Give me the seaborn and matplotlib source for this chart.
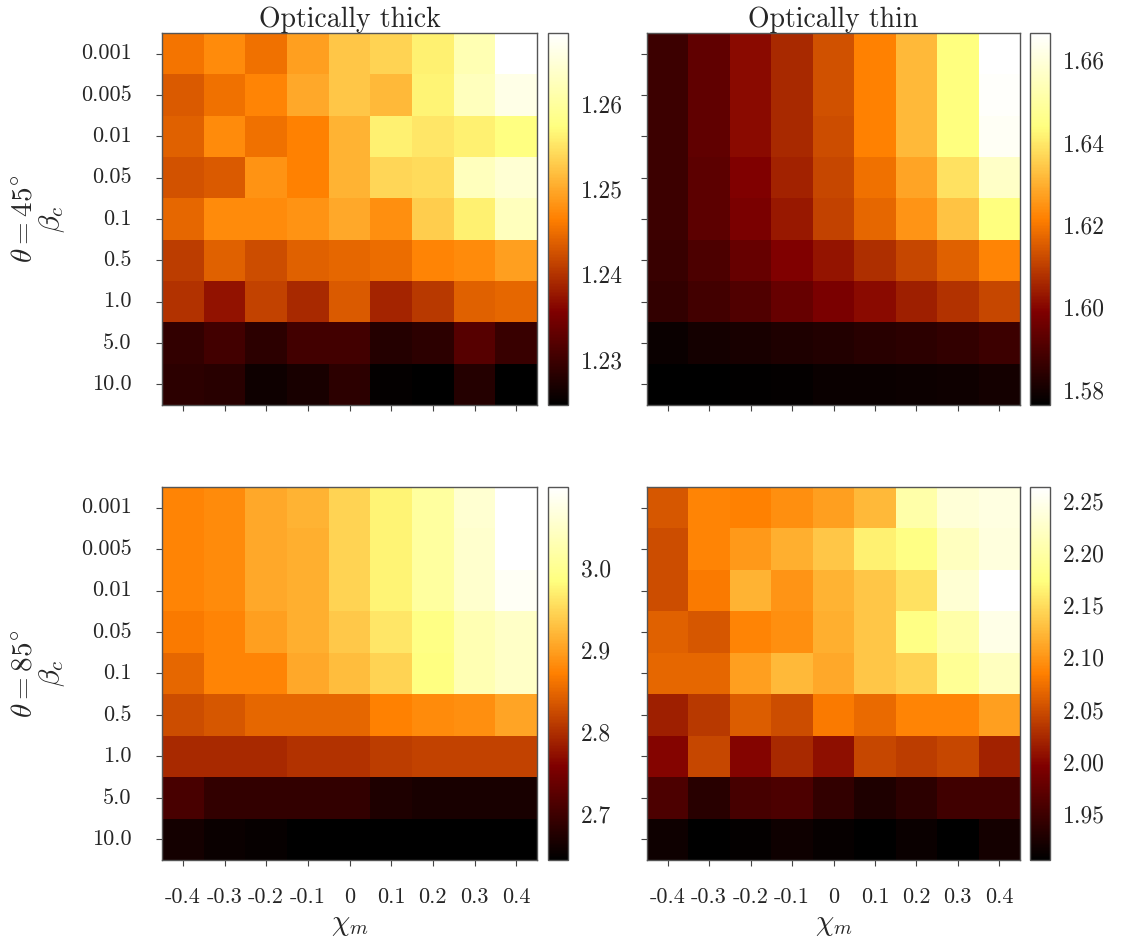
import numpy as np
import pandas as pd
import matplotlib
matplotlib.use('Agg')
import matplotlib.pyplot as plt
import seaborn as sns

beta_c = ['0.001', '0.005', '0.01', '0.05', '0.1', '0.5', '1.0', '5.0', '10.0']
chi_m = ['-0.4', '-0.3', '-0.2', '-0.1', '0', '0.1', '0.2', '0.3', '0.4']

# theta = 45 deg, optically thick
thick_45 = [
    [1.2456, 1.2474, 1.2452, 1.2491, 1.2526, 1.2535, 1.2561, 1.2618, 1.2683],
    [1.2434, 1.2452, 1.2469, 1.2500, 1.2526, 1.2513, 1.2565, 1.2626, 1.2661],
    [1.2439, 1.2474, 1.2452, 1.2465, 1.2509, 1.2561, 1.2552, 1.2561, 1.2574],
    [1.2426, 1.2434, 1.2482, 1.2465, 1.2509, 1.2539, 1.2543, 1.2626, 1.2644],
    [1.2443, 1.2474, 1.2474, 1.2482, 1.2500, 1.2478, 1.2530, 1.2561, 1.2626],
    [1.2408, 1.2439, 1.2421, 1.2439, 1.2443, 1.2448, 1.2469, 1.2474, 1.2491],
    [1.2400, 1.2373, 1.2413, 1.2391, 1.2434, 1.2387, 1.2404, 1.2439, 1.2443],
    [1.2291, 1.2304, 1.2286, 1.2304, 1.2304, 1.2278, 1.2286, 1.2321, 1.2295],
    [1.2286, 1.2282, 1.2260, 1.2269, 1.2286, 1.2251, 1.2247, 1.2278, 1.2247],
]

# theta = 45 deg, optically thin
thin_45 = [
    [1.5871, 1.5935, 1.6007, 1.6061, 1.6133, 1.6215, 1.6314, 1.6440, 1.6666],
    [1.5871, 1.5935, 1.6007, 1.6061, 1.6133, 1.6215, 1.6314, 1.6440, 1.6657],
    [1.5871, 1.5935, 1.6007, 1.6061, 1.6124, 1.6215, 1.6314, 1.6440, 1.6648],
    [1.5871, 1.5926, 1.5989, 1.6052, 1.6115, 1.6187, 1.6278, 1.6386, 1.6567],
    [1.5871, 1.5926, 1.5980, 1.6034, 1.6106, 1.6169, 1.6251, 1.6332, 1.6440],
    [1.5862, 1.5898, 1.5944, 1.5989, 1.6025, 1.6070, 1.6115, 1.6160, 1.6224],
    [1.5853, 1.5880, 1.5907, 1.5944, 1.5980, 1.6007, 1.6043, 1.6079, 1.6115],
    [1.5781, 1.5799, 1.5808, 1.5817, 1.5826, 1.5835, 1.5844, 1.5853, 1.5871],
    [1.5763, 1.5763, 1.5768, 1.5772, 1.5781, 1.5781, 1.5786, 1.5790, 1.5799],
]

# theta = 85 deg, optically thick
thick_85 = [
    [2.876, 2.880, 2.907, 2.916, 2.944, 2.975, 3.012, 3.057, 3.098],
    [2.876, 2.880, 2.907, 2.912, 2.944, 2.975, 3.012, 3.053, 3.098],
    [2.876, 2.880, 2.907, 2.912, 2.944, 2.975, 3.012, 3.053, 3.089],
    [2.866, 2.876, 2.898, 2.912, 2.935, 2.962, 2.989, 3.030, 3.048],
    [2.848, 2.876, 2.876, 2.907, 2.925, 2.944, 2.985, 3.030, 3.048],
    [2.826, 2.835, 2.848, 2.848, 2.848, 2.871, 2.880, 2.885, 2.903],
    [2.794, 2.794, 2.794, 2.803, 2.803, 2.812, 2.817, 2.817, 2.817],
    [2.708, 2.689, 2.689, 2.689, 2.689, 2.671, 2.667, 2.667, 2.667],
    [2.662, 2.653, 2.651, 2.644, 2.644, 2.644, 2.644, 2.644, 2.644],
]

# theta = 85 deg, optically thin
thin_85 = [
    [2.056, 2.088, 2.085, 2.095, 2.106, 2.124, 2.202, 2.234, 2.242],
    [2.049, 2.088, 2.102, 2.117, 2.134, 2.163, 2.177, 2.217, 2.238],
    [2.049, 2.081, 2.120, 2.099, 2.120, 2.134, 2.152, 2.231, 2.263],
    [2.063, 2.056, 2.088, 2.095, 2.117, 2.134, 2.177, 2.202, 2.245],
    [2.067, 2.067, 2.106, 2.124, 2.113, 2.134, 2.142, 2.188, 2.217],
    [2.017, 2.035, 2.060, 2.049, 2.081, 2.070, 2.088, 2.088, 2.106],
    [1.999, 2.045, 1.999, 2.024, 2.006, 2.045, 2.038, 2.045, 2.020],
    [1.960, 1.935, 1.956, 1.960, 1.942, 1.927, 1.938, 1.952, 1.952],
    [1.917, 1.906, 1.910, 1.917, 1.911, 1.906, 1.913, 1.906, 1.920],
]

# colour bar tick labels as printed in the figure
ticks_thick_45 = ['1.23', '1.24', '1.25', '1.26']
ticks_thin_45 = ['1.58', '1.60', '1.62', '1.64', '1.66']
ticks_thick_85 = ['2.7', '2.8', '2.9', '3.0']
ticks_thin_85 = ['1.95', '2.00', '2.05', '2.10', '2.15', '2.20', '2.25']

sns.set_style('ticks')
plt.rcParams['font.family'] = 'cmr10'
plt.rcParams['mathtext.fontset'] = 'cm'
plt.rcParams['axes.unicode_minus'] = False
plt.rcParams['axes.formatter.use_mathtext'] = True

W, H = 1123, 946
fig = plt.figure(figsize=(W / 100, H / 100), dpi=100)


def box(x0, y0, x1, y1):
    # pixel box -> figure fraction
    return [x0 / W, 1 - y1 / H, (x1 - x0) / W, (y1 - y0) / H]


panels = [
    (thick_45, ticks_thick_45, box(162, 33, 537, 405), box(548, 33, 568, 405), 0, 0),
    (thin_45, ticks_thin_45, box(647, 33, 1020, 405), box(1030, 33, 1050, 405), 0, 1),
    (thick_85, ticks_thick_85, box(162, 487, 537, 860), box(548, 487, 568, 860), 1, 0),
    (thin_85, ticks_thin_85, box(647, 487, 1020, 860), box(1030, 487, 1050, 860), 1, 1),
]
titles = ['Optically thick', 'Optically thin']
row_labels = [r'$\theta = 45^{\circ}$' + '\n' + r'$\beta_c$',
              r'$\theta = 85^{\circ}$' + '\n' + r'$\beta_c$']

for values, cticks, ax_box, cb_box, r, c in panels:
    ax = fig.add_axes(ax_box)
    cax = fig.add_axes(cb_box)
    df = pd.DataFrame(values, index=beta_c, columns=chi_m)
    sns.heatmap(df, cmap='afmhot', ax=ax, cbar_ax=cax,
                cbar_kws={'ticks': [float(t) for t in cticks]})

    for sp in ax.spines.values():
        sp.set_visible(True)
        sp.set_color('#555555')
        sp.set_linewidth(1.0)
    ax.tick_params(left=True, bottom=True, direction='out', length=4,
                   width=0.8, color='#444444', labelsize=16)
    ax.tick_params(axis='y', pad=18)
    ax.tick_params(axis='x', pad=16)
    ax.set_yticklabels(beta_c if c == 0 else [], rotation=0)
    if r == 0:
        ax.set_xticklabels([])
        ax.set_xlabel('')
        ax.set_title(titles[c], fontsize=20, pad=3)
    else:
        ax.set_xticklabels(chi_m, rotation=0)
        ax.set_xlabel(r'$\chi_m$', fontsize=21, labelpad=3)
    if c == 0:
        ax.set_ylabel(row_labels[r], fontsize=21, labelpad=10, linespacing=1.0)
    else:
        ax.set_ylabel('')

    cb = ax.collections[0].colorbar
    cb.set_ticklabels(cticks)
    cax.tick_params(direction='in', length=6, width=1, right=True,
                    color='#222222', labelsize=17, pad=9)
    cb.outline.set_visible(True)
    cb.outline.set_edgecolor('#555555')
    cb.outline.set_linewidth(1.0)

fig.savefig('out.png', dpi=100)
